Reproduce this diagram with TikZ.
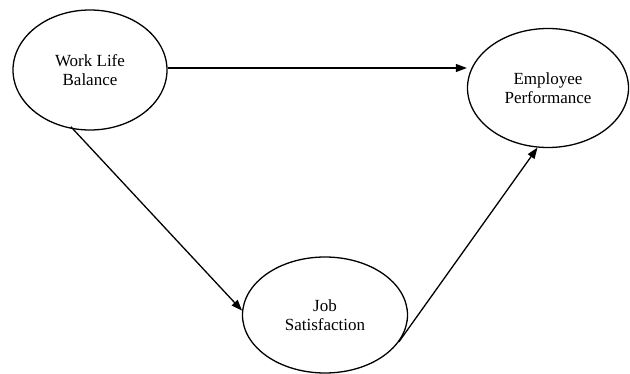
\documentclass[tikz,border=0pt]{standalone}
\usepackage{fontspec}
\setmainfont{Liberation Serif}
\usetikzlibrary{shapes.geometric,arrows.meta}
\begin{document}
\begin{tikzpicture}[x=1pt,y=-1pt,
  oval/.style={draw, ellipse, line width=1.3pt, inner sep=0pt, align=center,
    font=\fontsize{17}{19}\selectfont},
  conn/.style={line width=1.3pt, -{Triangle[length=11pt,width=8pt]}}]
\useasboundingbox (0,0) rectangle (630,374);
\node[oval, minimum width=154pt, minimum height=120pt] (wlb) at (90,70) {Work Life\\Balance};
\node[oval, minimum width=161pt, minimum height=119pt] (ep) at (548,88) {Employee\\Performance};
\node[oval, minimum width=165pt, minimum height=116pt] (js) at (325,315) {Job\\Satisfaction};
\draw[conn] ([yshift=2pt]wlb.east) -- ([yshift=2pt]wlb.east -| ep.west);
\draw[conn] ([shift={(0,2pt)}]wlb.-108) -- (js.177);
\draw[conn] (js.-20) -- (ep.-100);
\end{tikzpicture}
\end{document}
